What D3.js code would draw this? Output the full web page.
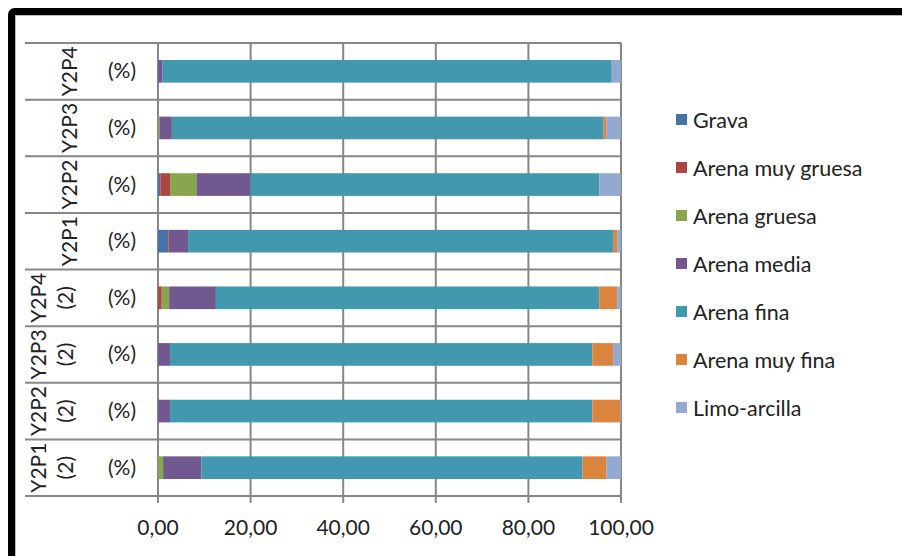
<!DOCTYPE html>
<html><head><meta charset="utf-8">
<script src="https://cdn.jsdelivr.net/npm/d3@7"></script>
<style>
html,body{margin:0;padding:0;background:#fff;}
svg{display:block;font-family:Lato, "Liberation Sans", sans-serif;}
</style></head>
<body><svg id="c" width="902" height="556"></svg>
<script>
const categories = ["Y2P4", "Y2P3", "Y2P2", "Y2P1", "Y2P4 (2)", "Y2P3 (2)", "Y2P2 (2)", "Y2P1 (2)"];
const subLabels = ["(%)", "(%)", "(%)", "(%)", "(%)", "(%)", "(%)", "(%)"];
const seriesNames = ["Grava", "Arena muy gruesa", "Arena gruesa", "Arena media", "Arena fina", "Arena muy fina", "Limo-arcilla"];
const grava     = [0,    0,    0.5,  2.3,  0,    0,    0,    0];
const muyGruesa = [0,    0,    2.1,  0.3,  0.8,  0,    0,    0];
const gruesa    = [0,    0.3,  5.7,  0,    1.6,  0,    0,    1.1];
const media     = [1.0,  2.7,  11.7, 3.9,  10.1, 2.6,  2.6,  8.3];
const fina      = [97.0, 93.2, 75.3, 91.8, 82.8, 91.2, 91.2, 82.3];
const muyFina   = [0,    0.6,  0,    0.9,  3.9,  4.5,  6.0,  5.1];
const limo      = [2.0,  3.2,  4.7,  0.8,  0.8,  1.7,  0.2,  3.2];
const tickValues = [0, 20, 40, 60, 80, 100];
const tickLabels = ["0,00", "20,00", "40,00", "60,00", "80,00", "100,00"];
const colors = ["#4572A7", "#AA4643", "#89A54E", "#71588F", "#4198AF", "#DB843D", "#93A9CF"];

const seriesValues = [grava, muyGruesa, gruesa, media, fina, muyFina, limo];
const rows = categories.map((c, i) => {
  const o = {cat: c};
  seriesNames.forEach((s, j) => o[s] = seriesValues[j][i]);
  return o;
});

const svg = d3.select("#c");
const grid = "#878787";
const txt = "#222";
const fs = 21;

// frame
svg.append("rect").attr("x", 11.5).attr("y", 11.5).attr("width", 1200).attr("height", 1200)
  .attr("rx", 3).attr("fill", "#fff").attr("stroke", "#000").attr("stroke-width", 7);
svg.append("line").attr("x1", 15).attr("x2", 902).attr("y1", 15.5).attr("y2", 15.5)
  .attr("stroke", "#bbb").attr("stroke-width", 1);
svg.append("line").attr("x1", 15.5).attr("x2", 15.5).attr("y1", 15).attr("y2", 556)
  .attr("stroke", "#bbb").attr("stroke-width", 1);

const x = d3.scaleLinear().domain([0, 100]).range([158, 621]);
const y = d3.scaleBand().domain(categories).range([43, 496]).padding(0);
const barH = y.bandwidth() / 2.5;

// vertical gridlines + ticks
svg.append("g").selectAll("line").data(tickValues).join("line")
  .attr("x1", d => x(d)).attr("x2", d => x(d))
  .attr("y1", 43).attr("y2", 503)
  .attr("stroke", grid).attr("stroke-width", 2);

// horizontal category dividers
const bounds = categories.map(c => y(c)).concat([y.range()[1]]);
svg.append("g").selectAll("line").data(bounds).join("line")
  .attr("x1", 25).attr("x2", x(100))
  .attr("y1", d => d).attr("y2", d => d)
  .attr("stroke", grid).attr("stroke-width", 2);

// bars
const stack = d3.stack().keys(seriesNames)(rows);
svg.append("g").selectAll("g").data(stack).join("g")
  .attr("fill", (d, i) => colors[i])
  .selectAll("rect").data(d => d).join("rect")
  .attr("x", d => x(d[0]))
  .attr("width", d => Math.max(0, x(d[1]) - x(d[0])))
  .attr("y", d => y(d.data.cat) + (y.bandwidth() - barH) / 2)
  .attr("height", barH);

// x tick labels
svg.append("g").selectAll("text").data(tickValues).join("text")
  .attr("x", d => x(d)).attr("y", 535)
  .attr("text-anchor", "middle").attr("font-size", fs).attr("fill", txt)
  .text((d, i) => tickLabels[i]);

// inner category labels
svg.append("g").selectAll("text").data(categories).join("text")
  .attr("x", 122).attr("y", d => y(d) + y.bandwidth() / 2 + 7)
  .attr("text-anchor", "middle").attr("font-size", fs).attr("fill", txt)
  .text((d, i) => subLabels[i]);

// outer rotated labels
categories.forEach(c => {
  const cy = y(c) + y.bandwidth() / 2;
  const parts = c.split(" ");
  if (parts.length === 1) {
    svg.append("text").attr("transform", `translate(77,${cy}) rotate(-90)`)
      .attr("text-anchor", "middle").attr("font-size", fs).attr("fill", txt).text(parts[0]);
  } else {
    svg.append("text").attr("transform", `translate(46,${cy}) rotate(-90)`)
      .attr("text-anchor", "middle").attr("font-size", fs).attr("fill", txt).text(parts[0]);
    svg.append("text").attr("transform", `translate(73,${cy}) rotate(-90)`)
      .attr("text-anchor", "middle").attr("font-size", fs).attr("fill", txt).text(parts[1]);
  }
});

// legend
const lg = svg.append("g").selectAll("g").data(seriesNames).join("g")
  .attr("transform", (d, i) => `translate(676,${120 + i * 48})`);
lg.append("rect").attr("x", 0).attr("y", -6).attr("width", 11).attr("height", 11)
  .attr("fill", (d, i) => colors[i]);
lg.append("text").attr("x", 17).attr("y", 7.5).attr("font-size", 21.5).attr("fill", txt).text(d => d);
</script></body></html>
